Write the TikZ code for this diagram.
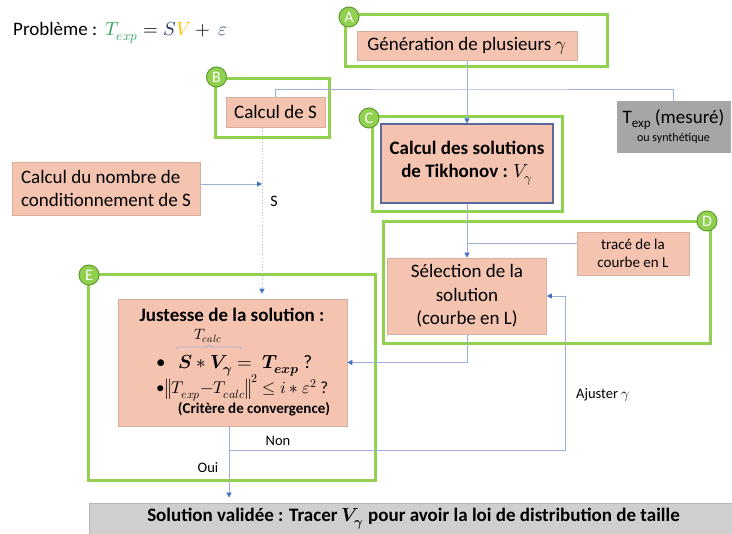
\documentclass[tikz,border=0pt]{standalone}
\usepackage{fontspec}
\usepackage{unicode-math}
\setmainfont{Carlito}
\setmathfont{Latin Modern Math}
\usetikzlibrary{arrows.meta,decorations.pathreplacing}
\definecolor{pinkc}{HTML}{F5C4B1}
\definecolor{pinkborder}{HTML}{D9AE9F}
\definecolor{greenc}{HTML}{92D050}
\definecolor{badgeborder}{HTML}{5E9B2E}
\definecolor{connc}{HTML}{9DB0D6}
\definecolor{arrc}{HTML}{4472C4}
\definecolor{dotc}{HTML}{BFBFBF}
\definecolor{tikborder}{HTML}{5B6A9A}
\definecolor{texpgray}{HTML}{A6A6A6}
\definecolor{validgray}{HTML}{CFCFCF}
\definecolor{validborder}{HTML}{B5B5B5}
\definecolor{tgreen}{HTML}{2E9E5B}
\definecolor{sblue}{HTML}{203864}
\definecolor{vyellow}{HTML}{FFC000}
\definecolor{epsgray}{HTML}{44546A}
\tikzset{
  pinkbox/.style={draw=pinkborder, fill=pinkc, line width=0.6pt, inner sep=0pt, align=center},
  greenbox/.style={draw=greenc, line width=3pt, inner sep=0pt},
  badge/.style={circle, fill=greenc, draw=badgeborder, line width=1pt, minimum size=20pt, inner sep=0pt, text=white, font=\fontsize{16}{16}\selectfont},
  conn/.style={draw=connc, line width=0.8pt},
  arr/.style={conn, -{Triangle[length=5pt,width=5pt,color=arrc]}},
  dotline/.style={draw=dotc, line width=0.9pt, dotted, -{Triangle[length=5pt,width=5pt,color=arrc]}},
  main/.style={font=\fontsize{19}{23.5}\selectfont},
  small/.style={font=\fontsize{14.5}{17.5}\selectfont, inner sep=0pt},
}
\begin{document}
\begin{tikzpicture}[x=1pt,y=-1pt]
\useasboundingbox (0,0) rectangle (732,534);

% title
\node[anchor=base west, inner sep=0pt, main] (title) at (13,36)
  {Problème :\ \ $\color{tgreen}T_{exp}\color{black} = \color{sblue}S\color{vyellow}V\color{black} +\ \color{epsgray}\varepsilon$};

% green frames
\node[greenbox, minimum width=262pt, minimum height=52pt] (gA) at (476,41) {};
\node[greenbox, minimum width=113.5pt, minimum height=59pt] (gB) at (272.3,108.5) {};
\node[greenbox, minimum width=190pt, minimum height=95pt] (gC) at (467,164.5) {};
\node[greenbox, minimum width=327pt, minimum height=122pt] (gD) at (546.5,283) {};
\node[greenbox, minimum width=287pt, minimum height=206pt] (gE) at (231.5,378) {};

% boxes
\node[pinkbox, main, minimum width=220pt, minimum height=29pt] (gen) at (467,45.5) {Génération de plusieurs $\gamma$};
\node[pinkbox, main, minimum width=99pt, minimum height=30.5pt] (calcS) at (275.5,112.3) {Calcul de S};
\node[draw=texpgray, fill=texpgray, inner sep=0pt, align=center, minimum width=113pt, minimum height=51pt] (texp) at (673.5,126.5)
  {\fontsize{19}{19}\selectfont T\raisebox{-4pt}{\fontsize{13}{13}\selectfont exp} (mesuré)\\[3pt]{\fontsize{12}{14}\selectfont ou synthétique}};
\node[pinkbox, draw=tikborder, line width=1.2pt, minimum width=172pt, minimum height=79pt, font=\bfseries\fontsize{19}{23}\selectfont] (tik) at (467,163.5)
  {Calcul des solutions\\de Tikhonov : $V_{\gamma}$};
\node[pinkbox, minimum width=112pt, minimum height=43pt, font=\fontsize{15}{17.6}\selectfont] (trace) at (633,253.5) {tracé de la\\courbe en L};
\node[pinkbox, main, minimum width=159pt, minimum height=76pt] (sel) at (467,296) {Sélection de la\\solution\\(courbe en L)};
\node[pinkbox, main, align=left, minimum width=188pt, minimum height=53pt] (cond) at (106,188.5) {Calcul du nombre de\\conditionnement de S};
\node[pinkbox, minimum width=229pt, minimum height=127pt] (just) at (232.5,362.5) {};
\node[draw=validborder, fill=validgray, line width=0.8pt, minimum width=644pt, minimum height=33pt, inner sep=0pt] (valid) at (411,519.5) {};

% content of justesse box
\node[inner sep=0pt, font=\bfseries\fontsize{19}{19}\selectfont] (jtitle) at (232,315) {Justesse de la solution :};
\node[inner sep=0pt, font=\fontsize{15}{15}\selectfont] (tcalc) at (208,336) {$T_{calc}$};
\coordinate (brl) at (176,349);
\coordinate (brr) at (242,349);
\draw[draw=connc, line width=0.7pt, decorate, decoration={brace, amplitude=4pt}] (brl) -- (brr);
\node[anchor=base west, inner sep=0pt, font=\fontsize{19}{19}\selectfont] (b1) at (156,369)
  {\textbullet\hspace{13pt}$\symbfit{S}\ast\symbfit{V}_{\symbfit{\gamma}} =\ \symbfit{T}_{\symbfit{exp}}$ ?};
\node[anchor=base west, inner sep=0pt, font=\fontsize{17}{17}\selectfont] (b2) at (156,394)
  {\textbullet\hspace{1pt}$\left\| T_{exp}{-}T_{calc} \right\|^{2} \le i \ast \varepsilon^{2}$ ?};
\node[inner sep=0pt, font=\bfseries\fontsize{15}{15}\selectfont] (crit) at (254,409) {(Critère de convergence)};

% bottom text
\node[inner sep=0pt, font=\bfseries\fontsize{19}{19}\selectfont] (validtxt) at (413.5,519)
  {Solution validée : Tracer $\symbfit{V}_{\symbfit{\gamma}}$ pour avoir la loi de distribution de taille};

% badges
\node[badge] (bA) at (349,17) {A};
\node[badge] (bB) at (216.5,77) {B};
\node[badge] (bC) at (369,118) {C};
\node[badge] (bD) at (707,221) {D};
\node[badge] (bE) at (89,275) {E};

% labels
\node[inner sep=0pt, font=\fontsize{16}{16}\selectfont] (lS) at (274,201) {S};
\node[small] (lnon) at (278,441) {Non};
\node[small] (loui) at (208,468) {Oui};
\node[small] (laj) at (603,395) {Ajuster $\gamma$};

% coordinates
\coordinate (j1) at (467,89);
\coordinate (j2) at (467,243);
\coordinate (jn) at (229,450);
\coordinate (kn) at (565,450);
\coordinate (dtop) at ([xshift=-13.5pt]calcS.south);
\coordinate (ca) at ([yshift=4.5pt]cond.east);
\coordinate (tw) at ([yshift=10.5pt]trace.west);
\coordinate (js) at (just.south -| jn);

% connectors
\draw[conn] (calcS.north) |- (j1) -| (texp.north);
\draw[arr] (gen) -- (tik);
\draw[arr] (tik) -- (sel);
\draw[conn] (tw) -- (j2);
\draw[arr] (sel.south) |- (just.east);
\draw[dotline, shorten >=5pt] (dtop) -- (dtop |- just.north);
\draw[arr] (ca) -- (ca -| dtop);
\draw[arr] (jn) -- (kn) |- (sel.east);
\draw[arr, shorten >=5pt] (js) -- (js |- valid.north);
\end{tikzpicture}
\end{document}
